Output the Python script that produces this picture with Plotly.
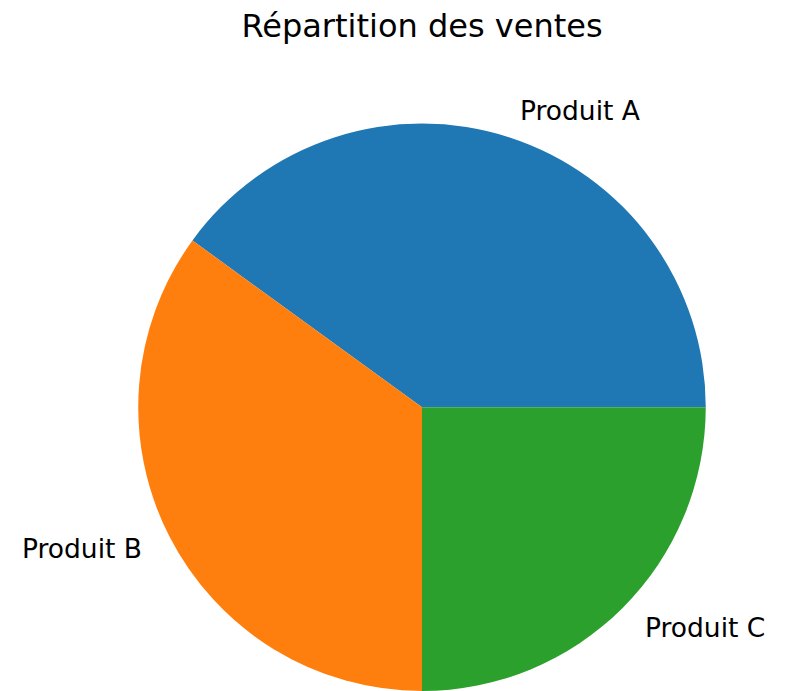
import math
import plotly.graph_objects as go

labels = ["Produit A", "Produit B", "Produit C"]
values = [40, 35, 25]
colors = ["#1f77b4", "#ff7f0e", "#2ca02c"]
title_text = "Répartition des ventes"

W, H = 790, 691
# pie domain (pixels)
x0, x1 = 137.5, 706.5
ytop = 123.5
dom_y1 = (H - ytop) / H
cx = (x0 + x1) / 2
radius = min(x1 - x0, H * dom_y1) / 2
cy = H - radius  # pixel y from top

total = sum(values)
# first slice starts at 3 o'clock and runs counterclockwise (matplotlib style)
rotation = 90 - 360 * values[0] / total

fig = go.Figure(go.Pie(
    labels=labels, values=values, sort=False,
    direction="counterclockwise", rotation=rotation,
    marker=dict(colors=colors, line=dict(width=0)),
    textinfo="none", showlegend=False,
    domain=dict(x=[x0 / W, x1 / W], y=[0, dom_y1]),
))

start = 0.0
annotations = []
for lab, v in zip(labels, values):
    ang = start + 360 * v / total / 2
    start += 360 * v / total
    rad = math.radians(ang)
    px = cx + 1.1 * radius * math.cos(rad)
    py = cy - 1.1 * radius * math.sin(rad)
    annotations.append(dict(
        x=px / W, y=1 - py / H, xref="paper", yref="paper",
        text=lab, showarrow=False,
        xanchor="left" if math.cos(rad) > 0 else "right", yanchor="middle",
        font=dict(family="DejaVu Sans", size=26.5, color="black"),
    ))

fig.update_layout(
    width=W, height=H,
    margin=dict(l=0, r=0, t=0, b=0),
    paper_bgcolor="white", plot_bgcolor="white",
    title=dict(text=title_text, x=cx / W, xanchor="center",
               y=1 - 26 / H, yanchor="middle", yref="container",
               font=dict(family="DejaVu Sans", size=32, color="black")),
    annotations=annotations,
)

fig.write_html("out.html", config={"displayModeBar": False},
               post_script="document.body.style.margin='0';")
